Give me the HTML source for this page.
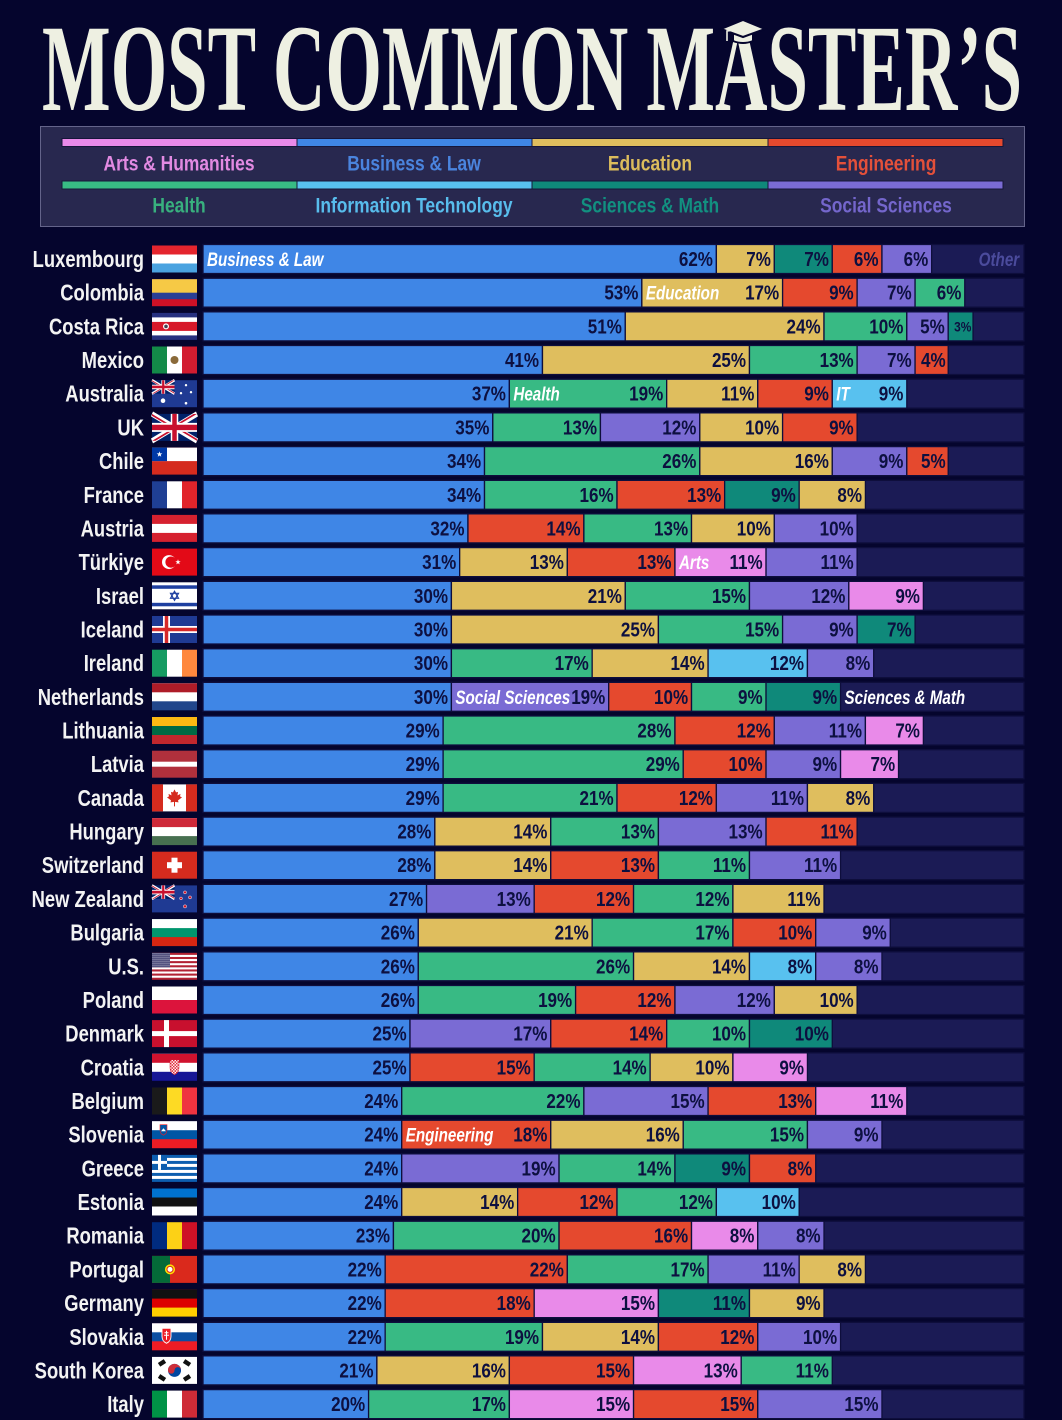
<!DOCTYPE html>
<html><head><meta charset="utf-8">
<style>
html,body{margin:0;padding:0;background:#05052d;width:1062px;height:1420px;overflow:hidden}
svg{display:block}
.B{fill:#3f86e6}.E{fill:#dfbe5e}.S{fill:#0f897a}.G{fill:#e5492e}.O{fill:#7a6bd4}.H{fill:#38ba84}.I{fill:#58c1ef}.A{fill:#e98ae9}.T{fill:#1b1b55}
.bar rect{stroke:#0e0e3c;stroke-width:1.3px;vector-effect:non-scaling-stroke}
.p{font:bold 20px "Liberation Sans",sans-serif;fill:#0d1040;text-anchor:end}
.l{font:italic bold 19px "Liberation Sans",sans-serif;fill:#fff;text-anchor:start}
.c{font:bold 23px "Liberation Sans",sans-serif;fill:#f3f3f3;text-anchor:end}
.lg{font:bold 21px "Liberation Sans",sans-serif;text-anchor:middle}
</style></head><body>
<svg width="1062" height="1420" viewBox="0 0 1062 1420">
<defs>
<clipPath id="ujc"><path d="M30,15h30v15zv15h-30zh-30v-15zv-15h30z"/></clipPath>
<g id="uj">
<rect width="60" height="30" fill="#012169"/>
<path d="M0,0L60,30M60,0L0,30" stroke="#fff" stroke-width="6"/>
<path d="M0,0L60,30M60,0L0,30" clip-path="url(#ujc)" stroke="#c8102e" stroke-width="4"/>
<path d="M30,0v30M0,15h60" stroke="#fff" stroke-width="10"/>
<path d="M30,0v30M0,15h60" stroke="#c8102e" stroke-width="6"/>
</g>
<pattern id="st" width="2" height="2" patternUnits="userSpaceOnUse"><rect width="2" height="2" fill="#3c3b6e"/><circle cx="1" cy="1" r=".55" fill="#fff"/></pattern>
<pattern id="ck" width="3" height="3" patternUnits="userSpaceOnUse"><rect width="3" height="3" fill="#fff"/><rect width="1.5" height="1.5" fill="#e0202e"/><rect x="1.5" y="1.5" width="1.5" height="1.5" fill="#e0202e"/></pattern>
</defs>
<rect width="1062" height="1420" fill="#05052d"/>

<!-- Title -->
<text x="42" y="110" textLength="980" lengthAdjust="spacingAndGlyphs" style="font:bold 124px 'Liberation Serif',serif;fill:#eef0e2">MOST COMMON MASTER’S</text>
<g fill="#eef0e2" stroke="#05052d" stroke-width="2">
<path d="M733,31 L753,31 L753,41 Q743,45 733,41 Z"/>
<polygon points="721,29 743,20 765,29 743,37"/>
</g>
<path d="M743,29 L727,31 L727,41" stroke="#eef0e2" stroke-width="1.6" fill="none"/>

<!-- Legend -->
<rect x="40.5" y="126.5" width="984" height="100" fill="#28284f" stroke="#64648a"/>
<g stroke="#16163a" stroke-width="1">
<rect x="62" y="138.5" width="235" height="8" fill="#e98ae9"/>
<rect x="297" y="138.5" width="235" height="8" fill="#3f86e6"/>
<rect x="532" y="138.5" width="236" height="8" fill="#dfbe5e"/>
<rect x="768" y="138.5" width="235" height="8" fill="#e5492e"/>
<rect x="62" y="181" width="235" height="8" fill="#38ba84"/>
<rect x="297" y="181" width="235" height="8" fill="#58c1ef"/>
<rect x="532" y="181" width="236" height="8" fill="#0f897a"/>
<rect x="768" y="181" width="235" height="8" fill="#7a6bd4"/>
</g>
<g class="lg" transform="scale(.83 1)">
<text x="215.7" y="170.5" fill="#e28ae2">Arts &amp; Humanities</text>
<text x="498.8" y="170.5" fill="#4a84de">Business &amp; Law</text>
<text x="783.1" y="170.5" fill="#dcbc5c">Education</text>
<text x="1067.5" y="170.5" fill="#e4503a">Engineering</text>
<text x="215.7" y="212.5" fill="#38b07e">Health</text>
<text x="498.8" y="212.5" fill="#58bdec">Information Technology</text>
<text x="783.1" y="212.5" fill="#129080">Sciences &amp; Math</text>
<text x="1067.5" y="212.5" fill="#7466cc">Social Sciences</text>
</g>

<!-- Row 0 Luxembourg -->
<g transform="translate(0 244.5)"><text class="c" transform="scale(.8 1)" x="180" y="22.5">Luxembourg</text>
<g transform="translate(152 1)"><rect width="45" height="27" fill="#4aa3e0"/><rect width="45" height="18" fill="#fff"/><rect width="45" height="9" fill="#e4252e"/></g>
<g class="bar p" transform="translate(203 0)scale(8.28 1)"><rect class="T" width="99.15" height="29"/>
<rect class="B" width="62" height="29"/><rect class="E" x="62" width="7" height="29"/><rect class="S" x="69" width="7" height="29"/><rect class="G" x="76" width="6" height="29"/><rect class="O" x="82" width="6" height="29"/>
<text transform="translate(62 21.5)scale(.103 1)" x="-4">62%</text><text transform="translate(69 21.5)scale(.103 1)" x="-4">7%</text><text transform="translate(76 21.5)scale(.103 1)" x="-4">7%</text><text transform="translate(82 21.5)scale(.103 1)" x="-4">6%</text><text transform="translate(88 21.5)scale(.103 1)" x="-4">6%</text>
<text class="l" transform="translate(0 21.5)scale(.0966 1)" x="5">Business &amp; Law</text>
<text class="l" style="fill:#4b4b9c;text-anchor:end" transform="translate(99.15 21.5)scale(.0966 1)" x="-6">Other</text>
</g></g>

<!-- Row 1 Colombia -->
<g transform="translate(0 278.2)"><text class="c" transform="scale(.8 1)" x="180" y="22.5">Colombia</text>
<g transform="translate(152 1)"><rect width="45" height="27" fill="#ce1126"/><rect width="45" height="20" fill="#2a3f95"/><rect width="45" height="13.5" fill="#f6c945"/></g>
<g class="bar p" transform="translate(203 0)scale(8.28 1)"><rect class="T" width="99.15" height="29"/>
<rect class="B" width="53" height="29"/><rect class="E" x="53" width="17" height="29"/><rect class="G" x="70" width="9" height="29"/><rect class="O" x="79" width="7" height="29"/><rect class="H" x="86" width="6" height="29"/>
<text transform="translate(53 21.5)scale(.103 1)" x="-4">53%</text><text transform="translate(70 21.5)scale(.103 1)" x="-4">17%</text><text transform="translate(79 21.5)scale(.103 1)" x="-4">9%</text><text transform="translate(86 21.5)scale(.103 1)" x="-4">7%</text><text transform="translate(92 21.5)scale(.103 1)" x="-4">6%</text>
<text class="l" transform="translate(53 21.5)scale(.0966 1)" x="5">Education</text>
</g></g>

<!-- Row 2 Costa Rica -->
<g transform="translate(0 311.9)"><text class="c" transform="scale(.8 1)" x="180" y="22.5">Costa Rica</text>
<g transform="translate(152 1)"><rect width="45" height="27" fill="#26307f"/><rect y="4.5" width="45" height="18" fill="#fff"/><rect y="9" width="45" height="9" fill="#d7182a"/><circle cx="14" cy="13.5" r="3" fill="#fff"/><circle cx="14" cy="13.5" r="1.8" fill="#445"/></g>
<g class="bar p" transform="translate(203 0)scale(8.28 1)"><rect class="T" width="99.15" height="29"/>
<rect class="B" width="51" height="29"/><rect class="E" x="51" width="24" height="29"/><rect class="H" x="75" width="10" height="29"/><rect class="O" x="85" width="5" height="29"/><rect class="S" x="90" width="3" height="29"/>
<text transform="translate(51 21.5)scale(.103 1)" x="-4">51%</text><text transform="translate(75 21.5)scale(.103 1)" x="-4">24%</text><text transform="translate(85 21.5)scale(.103 1)" x="-4">10%</text><text transform="translate(90 21.5)scale(.103 1)" x="-4">5%</text><text style="font-size:14px" transform="translate(93 19.5)scale(.103 1)" x="-2">3%</text>
</g></g>

<!-- Row 3 Mexico -->
<g transform="translate(0 345.5)"><text class="c" transform="scale(.8 1)" x="180" y="22.5">Mexico</text>
<g transform="translate(152 1)"><rect width="15" height="27" fill="#138a48"/><rect x="15" width="15" height="27" fill="#fff"/><rect x="30" width="15" height="27" fill="#d21c30"/><circle cx="22.5" cy="13.5" r="4" fill="#8a6a3a"/></g>
<g class="bar p" transform="translate(203 0)scale(8.28 1)"><rect class="T" width="99.15" height="29"/>
<rect class="B" width="41" height="29"/><rect class="E" x="41" width="25" height="29"/><rect class="H" x="66" width="13" height="29"/><rect class="O" x="79" width="7" height="29"/><rect class="G" x="86" width="4" height="29"/>
<text transform="translate(41 21.5)scale(.103 1)" x="-4">41%</text><text transform="translate(66 21.5)scale(.103 1)" x="-4">25%</text><text transform="translate(79 21.5)scale(.103 1)" x="-4">13%</text><text transform="translate(86 21.5)scale(.103 1)" x="-4">7%</text><text transform="translate(90 21.5)scale(.103 1)" x="-3">4%</text>
</g></g>

<!-- Row 4 Australia -->
<g transform="translate(0 379.2)"><text class="c" transform="scale(.8 1)" x="180" y="22.5">Australia</text>
<g transform="translate(152 1)"><rect width="45" height="27" fill="#1f3a93"/><use href="#uj" transform="scale(.375 .45)"/><circle cx="11" cy="20.5" r="2.3" fill="#fff"/><circle cx="34" cy="5" r="1.2" fill="#fff"/><circle cx="39" cy="12" r="1.2" fill="#fff"/><circle cx="34" cy="23" r="1.3" fill="#fff"/><circle cx="29" cy="13" r="1.2" fill="#fff"/></g>
<g class="bar p" transform="translate(203 0)scale(8.28 1)"><rect class="T" width="99.15" height="29"/>
<rect class="B" width="37" height="29"/><rect class="H" x="37" width="19" height="29"/><rect class="E" x="56" width="11" height="29"/><rect class="G" x="67" width="9" height="29"/><rect class="I" x="76" width="9" height="29"/>
<text transform="translate(37 21.5)scale(.103 1)" x="-4">37%</text><text transform="translate(56 21.5)scale(.103 1)" x="-4">19%</text><text transform="translate(67 21.5)scale(.103 1)" x="-4">11%</text><text transform="translate(76 21.5)scale(.103 1)" x="-4">9%</text><text transform="translate(85 21.5)scale(.103 1)" x="-4">9%</text>
<text class="l" transform="translate(37 21.5)scale(.0966 1)" x="5">Health</text>
<text class="l" transform="translate(76 21.5)scale(.0966 1)" x="5">IT</text>
</g></g>

<!-- Row 5 UK -->
<g transform="translate(0 412.9)"><text class="c" transform="scale(.8 1)" x="180" y="22.5">UK</text>
<g transform="translate(152 1)"><use href="#uj" transform="scale(.75 .9)"/></g>
<g class="bar p" transform="translate(203 0)scale(8.28 1)"><rect class="T" width="99.15" height="29"/>
<rect class="B" width="35" height="29"/><rect class="H" x="35" width="13" height="29"/><rect class="O" x="48" width="12" height="29"/><rect class="E" x="60" width="10" height="29"/><rect class="G" x="70" width="9" height="29"/>
<text transform="translate(35 21.5)scale(.103 1)" x="-4">35%</text><text transform="translate(48 21.5)scale(.103 1)" x="-4">13%</text><text transform="translate(60 21.5)scale(.103 1)" x="-4">12%</text><text transform="translate(70 21.5)scale(.103 1)" x="-4">10%</text><text transform="translate(79 21.5)scale(.103 1)" x="-4">9%</text>
</g></g>

<!-- Row 6 Chile -->
<g transform="translate(0 446.6)"><text class="c" transform="scale(.8 1)" x="180" y="22.5">Chile</text>
<g transform="translate(152 1)"><rect width="45" height="27" fill="#d52b1e"/><rect width="45" height="13.5" fill="#fff"/><rect width="15" height="13.5" fill="#0039a6"/><polygon points="7.5,3.75 8.2,5.78 10.35,5.82 8.64,7.12 9.26,9.18 7.5,7.95 5.74,9.18 6.36,7.12 4.65,5.82 6.8,5.78" fill="#fff"/></g>
<g class="bar p" transform="translate(203 0)scale(8.28 1)"><rect class="T" width="99.15" height="29"/>
<rect class="B" width="34" height="29"/><rect class="H" x="34" width="26" height="29"/><rect class="E" x="60" width="16" height="29"/><rect class="O" x="76" width="9" height="29"/><rect class="G" x="85" width="5" height="29"/>
<text transform="translate(34 21.5)scale(.103 1)" x="-4">34%</text><text transform="translate(60 21.5)scale(.103 1)" x="-4">26%</text><text transform="translate(76 21.5)scale(.103 1)" x="-4">16%</text><text transform="translate(85 21.5)scale(.103 1)" x="-4">9%</text><text transform="translate(90 21.5)scale(.103 1)" x="-3">5%</text>
</g></g>

<!-- Row 7 France -->
<g transform="translate(0 480.3)"><text class="c" transform="scale(.8 1)" x="180" y="22.5">France</text>
<g transform="translate(152 1)"><rect width="15" height="27" fill="#1f3f94"/><rect x="15" width="15" height="27" fill="#fff"/><rect x="30" width="15" height="27" fill="#e1242b"/></g>
<g class="bar p" transform="translate(203 0)scale(8.28 1)"><rect class="T" width="99.15" height="29"/>
<rect class="B" width="34" height="29"/><rect class="H" x="34" width="16" height="29"/><rect class="G" x="50" width="13" height="29"/><rect class="S" x="63" width="9" height="29"/><rect class="E" x="72" width="8" height="29"/>
<text transform="translate(34 21.5)scale(.103 1)" x="-4">34%</text><text transform="translate(50 21.5)scale(.103 1)" x="-4">16%</text><text transform="translate(63 21.5)scale(.103 1)" x="-4">13%</text><text transform="translate(72 21.5)scale(.103 1)" x="-4">9%</text><text transform="translate(80 21.5)scale(.103 1)" x="-4">8%</text>
</g></g>

<!-- Row 8 Austria -->
<g transform="translate(0 513.9)"><text class="c" transform="scale(.8 1)" x="180" y="22.5">Austria</text>
<g transform="translate(152 1)"><rect width="45" height="27" fill="#d6212f"/><rect y="9" width="45" height="9" fill="#fff"/></g>
<g class="bar p" transform="translate(203 0)scale(8.28 1)"><rect class="T" width="99.15" height="29"/>
<rect class="B" width="32" height="29"/><rect class="G" x="32" width="14" height="29"/><rect class="H" x="46" width="13" height="29"/><rect class="E" x="59" width="10" height="29"/><rect class="O" x="69" width="10" height="29"/>
<text transform="translate(32 21.5)scale(.103 1)" x="-4">32%</text><text transform="translate(46 21.5)scale(.103 1)" x="-4">14%</text><text transform="translate(59 21.5)scale(.103 1)" x="-4">13%</text><text transform="translate(69 21.5)scale(.103 1)" x="-4">10%</text><text transform="translate(79 21.5)scale(.103 1)" x="-4">10%</text>
</g></g>

<!-- Row 9 Türkiye -->
<g transform="translate(0 547.6)"><text class="c" transform="scale(.8 1)" x="180" y="22.5">Türkiye</text>
<g transform="translate(152 1)"><rect width="45" height="27" fill="#e30a17"/><circle cx="17" cy="13.5" r="7" fill="#fff"/><circle cx="19" cy="13.5" r="5.6" fill="#e30a17"/><polygon points="26,10.7 26.7,12.6 28.7,12.6 27.1,13.8 27.7,15.8 26,14.6 24.3,15.8 24.9,13.8 23.3,12.6 25.3,12.6" fill="#fff"/></g>
<g class="bar p" transform="translate(203 0)scale(8.28 1)"><rect class="T" width="99.15" height="29"/>
<rect class="B" width="31" height="29"/><rect class="E" x="31" width="13" height="29"/><rect class="G" x="44" width="13" height="29"/><rect class="A" x="57" width="11" height="29"/><rect class="O" x="68" width="11" height="29"/>
<text transform="translate(31 21.5)scale(.103 1)" x="-4">31%</text><text transform="translate(44 21.5)scale(.103 1)" x="-4">13%</text><text transform="translate(57 21.5)scale(.103 1)" x="-4">13%</text><text transform="translate(68 21.5)scale(.103 1)" x="-4">11%</text><text transform="translate(79 21.5)scale(.103 1)" x="-4">11%</text>
<text class="l" transform="translate(57 21.5)scale(.0966 1)" x="5">Arts</text>
</g></g>

<!-- Row 10 Israel -->
<g transform="translate(0 581.3)"><text class="c" transform="scale(.8 1)" x="180" y="22.5">Israel</text>
<g transform="translate(152 1)"><rect width="45" height="27" fill="#fff"/><rect y="3" width="45" height="3.5" fill="#1e3fa0"/><rect y="20.5" width="45" height="3.5" fill="#1e3fa0"/><path d="M22.5,9 L26.5,16 L18.5,16 Z M22.5,18 L26.5,11 L18.5,11 Z" fill="none" stroke="#1e3fa0" stroke-width="1.2"/></g>
<g class="bar p" transform="translate(203 0)scale(8.28 1)"><rect class="T" width="99.15" height="29"/>
<rect class="B" width="30" height="29"/><rect class="E" x="30" width="21" height="29"/><rect class="H" x="51" width="15" height="29"/><rect class="O" x="66" width="12" height="29"/><rect class="A" x="78" width="9" height="29"/>
<text transform="translate(30 21.5)scale(.103 1)" x="-4">30%</text><text transform="translate(51 21.5)scale(.103 1)" x="-4">21%</text><text transform="translate(66 21.5)scale(.103 1)" x="-4">15%</text><text transform="translate(78 21.5)scale(.103 1)" x="-4">12%</text><text transform="translate(87 21.5)scale(.103 1)" x="-4">9%</text>
</g></g>

<!-- Row 11 Iceland -->
<g transform="translate(0 615.0)"><text class="c" transform="scale(.8 1)" x="180" y="22.5">Iceland</text>
<g transform="translate(152 1)"><rect width="45" height="27" fill="#1f3a93"/><rect x="11" width="7" height="27" fill="#fff"/><rect y="10" width="45" height="7" fill="#fff"/><rect x="12.75" width="3.5" height="27" fill="#d72828"/><rect y="11.75" width="45" height="3.5" fill="#d72828"/></g>
<g class="bar p" transform="translate(203 0)scale(8.28 1)"><rect class="T" width="99.15" height="29"/>
<rect class="B" width="30" height="29"/><rect class="E" x="30" width="25" height="29"/><rect class="H" x="55" width="15" height="29"/><rect class="O" x="70" width="9" height="29"/><rect class="S" x="79" width="7" height="29"/>
<text transform="translate(30 21.5)scale(.103 1)" x="-4">30%</text><text transform="translate(55 21.5)scale(.103 1)" x="-4">25%</text><text transform="translate(70 21.5)scale(.103 1)" x="-4">15%</text><text transform="translate(79 21.5)scale(.103 1)" x="-4">9%</text><text transform="translate(86 21.5)scale(.103 1)" x="-4">7%</text>
</g></g>

<!-- Row 12 Ireland -->
<g transform="translate(0 648.7)"><text class="c" transform="scale(.8 1)" x="180" y="22.5">Ireland</text>
<g transform="translate(152 1)"><rect width="15" height="27" fill="#169b62"/><rect x="15" width="15" height="27" fill="#fff"/><rect x="30" width="15" height="27" fill="#ff883e"/></g>
<g class="bar p" transform="translate(203 0)scale(8.28 1)"><rect class="T" width="99.15" height="29"/>
<rect class="B" width="30" height="29"/><rect class="H" x="30" width="17" height="29"/><rect class="E" x="47" width="14" height="29"/><rect class="I" x="61" width="12" height="29"/><rect class="O" x="73" width="8" height="29"/>
<text transform="translate(30 21.5)scale(.103 1)" x="-4">30%</text><text transform="translate(47 21.5)scale(.103 1)" x="-4">17%</text><text transform="translate(61 21.5)scale(.103 1)" x="-4">14%</text><text transform="translate(73 21.5)scale(.103 1)" x="-4">12%</text><text transform="translate(81 21.5)scale(.103 1)" x="-4">8%</text>
</g></g>

<!-- Row 13 Netherlands -->
<g transform="translate(0 682.3)"><text class="c" transform="scale(.8 1)" x="180" y="22.5">Netherlands</text>
<g transform="translate(152 1)"><rect width="45" height="27" fill="#21468b"/><rect width="45" height="18" fill="#fff"/><rect width="45" height="9" fill="#ae1c28"/></g>
<g class="bar p" transform="translate(203 0)scale(8.28 1)"><rect class="T" width="99.15" height="29"/>
<rect class="B" width="30" height="29"/><rect class="O" x="30" width="19" height="29"/><rect class="G" x="49" width="10" height="29"/><rect class="H" x="59" width="9" height="29"/><rect class="S" x="68" width="9" height="29"/>
<text transform="translate(30 21.5)scale(.103 1)" x="-4">30%</text><text transform="translate(49 21.5)scale(.103 1)" x="-4">19%</text><text transform="translate(59 21.5)scale(.103 1)" x="-4">10%</text><text transform="translate(68 21.5)scale(.103 1)" x="-4">9%</text><text transform="translate(77 21.5)scale(.103 1)" x="-4">9%</text>
<text class="l" transform="translate(30 21.5)scale(.0966 1)" x="5">Social Sciences</text>
<text class="l" transform="translate(77 21.5)scale(.0966 1)" x="5">Sciences &amp; Math</text>
</g></g>

<!-- Row 14 Lithuania -->
<g transform="translate(0 716.0)"><text class="c" transform="scale(.8 1)" x="180" y="22.5">Lithuania</text>
<g transform="translate(152 1)"><rect width="45" height="27" fill="#c1272d"/><rect width="45" height="18" fill="#006a44"/><rect width="45" height="9" fill="#fdb913"/></g>
<g class="bar p" transform="translate(203 0)scale(8.28 1)"><rect class="T" width="99.15" height="29"/>
<rect class="B" width="29" height="29"/><rect class="H" x="29" width="28" height="29"/><rect class="G" x="57" width="12" height="29"/><rect class="O" x="69" width="11" height="29"/><rect class="A" x="80" width="7" height="29"/>
<text transform="translate(29 21.5)scale(.103 1)" x="-4">29%</text><text transform="translate(57 21.5)scale(.103 1)" x="-4">28%</text><text transform="translate(69 21.5)scale(.103 1)" x="-4">12%</text><text transform="translate(80 21.5)scale(.103 1)" x="-4">11%</text><text transform="translate(87 21.5)scale(.103 1)" x="-4">7%</text>
</g></g>

<!-- Row 15 Latvia -->
<g transform="translate(0 749.7)"><text class="c" transform="scale(.8 1)" x="180" y="22.5">Latvia</text>
<g transform="translate(152 1)"><rect width="45" height="27" fill="#b0303c"/><rect y="11" width="45" height="5" fill="#fff"/></g>
<g class="bar p" transform="translate(203 0)scale(8.28 1)"><rect class="T" width="99.15" height="29"/>
<rect class="B" width="29" height="29"/><rect class="H" x="29" width="29" height="29"/><rect class="G" x="58" width="10" height="29"/><rect class="O" x="68" width="9" height="29"/><rect class="A" x="77" width="7" height="29"/>
<text transform="translate(29 21.5)scale(.103 1)" x="-4">29%</text><text transform="translate(58 21.5)scale(.103 1)" x="-4">29%</text><text transform="translate(68 21.5)scale(.103 1)" x="-4">10%</text><text transform="translate(77 21.5)scale(.103 1)" x="-4">9%</text><text transform="translate(84 21.5)scale(.103 1)" x="-4">7%</text>
</g></g>

<!-- Row 16 Canada -->
<g transform="translate(0 783.4)"><text class="c" transform="scale(.8 1)" x="180" y="22.5">Canada</text>
<g transform="translate(152 1)"><rect width="45" height="27" fill="#fff"/><rect width="11" height="27" fill="#d52b1e"/><rect x="34" width="11" height="27" fill="#d52b1e"/><polygon points="22.5,5 24,8 26,7.5 25.5,11 28.5,9.5 28,12 30,13 26,16 26.5,18 23,17.5 23,22 22,22 22,17.5 18.5,18 19,16 15,13 17,12 16.5,9.5 19.5,11 19,7.5 21,8" fill="#d52b1e"/></g>
<g class="bar p" transform="translate(203 0)scale(8.28 1)"><rect class="T" width="99.15" height="29"/>
<rect class="B" width="29" height="29"/><rect class="H" x="29" width="21" height="29"/><rect class="G" x="50" width="12" height="29"/><rect class="O" x="62" width="11" height="29"/><rect class="E" x="73" width="8" height="29"/>
<text transform="translate(29 21.5)scale(.103 1)" x="-4">29%</text><text transform="translate(50 21.5)scale(.103 1)" x="-4">21%</text><text transform="translate(62 21.5)scale(.103 1)" x="-4">12%</text><text transform="translate(73 21.5)scale(.103 1)" x="-4">11%</text><text transform="translate(81 21.5)scale(.103 1)" x="-4">8%</text>
</g></g>

<!-- Row 17 Hungary -->
<g transform="translate(0 817.1)"><text class="c" transform="scale(.8 1)" x="180" y="22.5">Hungary</text>
<g transform="translate(152 1)"><rect width="45" height="27" fill="#477050"/><rect width="45" height="18" fill="#fff"/><rect width="45" height="9" fill="#ce2939"/></g>
<g class="bar p" transform="translate(203 0)scale(8.28 1)"><rect class="T" width="99.15" height="29"/>
<rect class="B" width="28" height="29"/><rect class="E" x="28" width="14" height="29"/><rect class="H" x="42" width="13" height="29"/><rect class="O" x="55" width="13" height="29"/><rect class="G" x="68" width="11" height="29"/>
<text transform="translate(28 21.5)scale(.103 1)" x="-4">28%</text><text transform="translate(42 21.5)scale(.103 1)" x="-4">14%</text><text transform="translate(55 21.5)scale(.103 1)" x="-4">13%</text><text transform="translate(68 21.5)scale(.103 1)" x="-4">13%</text><text transform="translate(79 21.5)scale(.103 1)" x="-4">11%</text>
</g></g>

<!-- Row 18 Switzerland -->
<g transform="translate(0 850.7)"><text class="c" transform="scale(.8 1)" x="180" y="22.5">Switzerland</text>
<g transform="translate(152 1)"><rect width="45" height="27" fill="#d52b1e"/><rect x="19.5" y="6" width="6" height="15" fill="#fff"/><rect x="15" y="10.5" width="15" height="6" fill="#fff"/></g>
<g class="bar p" transform="translate(203 0)scale(8.28 1)"><rect class="T" width="99.15" height="29"/>
<rect class="B" width="28" height="29"/><rect class="E" x="28" width="14" height="29"/><rect class="G" x="42" width="13" height="29"/><rect class="H" x="55" width="11" height="29"/><rect class="O" x="66" width="11" height="29"/>
<text transform="translate(28 21.5)scale(.103 1)" x="-4">28%</text><text transform="translate(42 21.5)scale(.103 1)" x="-4">14%</text><text transform="translate(55 21.5)scale(.103 1)" x="-4">13%</text><text transform="translate(66 21.5)scale(.103 1)" x="-4">11%</text><text transform="translate(77 21.5)scale(.103 1)" x="-4">11%</text>
</g></g>

<!-- Row 19 New Zealand -->
<g transform="translate(0 884.4)"><text class="c" transform="scale(.8 1)" x="180" y="22.5">New Zealand</text>
<g transform="translate(152 1)"><rect width="45" height="27" fill="#1f3a93"/><use href="#uj" transform="scale(.375 .45)"/><g fill="#cc142b" stroke="#fff" stroke-width=".5"><circle cx="33" cy="7" r="1.5"/><circle cx="38" cy="12" r="1.5"/><circle cx="29" cy="13" r="1.4"/><circle cx="33" cy="21" r="1.6"/></g></g>
<g class="bar p" transform="translate(203 0)scale(8.28 1)"><rect class="T" width="99.15" height="29"/>
<rect class="B" width="27" height="29"/><rect class="O" x="27" width="13" height="29"/><rect class="G" x="40" width="12" height="29"/><rect class="H" x="52" width="12" height="29"/><rect class="E" x="64" width="11" height="29"/>
<text transform="translate(27 21.5)scale(.103 1)" x="-4">27%</text><text transform="translate(40 21.5)scale(.103 1)" x="-4">13%</text><text transform="translate(52 21.5)scale(.103 1)" x="-4">12%</text><text transform="translate(64 21.5)scale(.103 1)" x="-4">12%</text><text transform="translate(75 21.5)scale(.103 1)" x="-4">11%</text>
</g></g>

<!-- Row 20 Bulgaria -->
<g transform="translate(0 918.1)"><text class="c" transform="scale(.8 1)" x="180" y="22.5">Bulgaria</text>
<g transform="translate(152 1)"><rect width="45" height="27" fill="#d62612"/><rect width="45" height="18" fill="#00966e"/><rect width="45" height="9" fill="#fff"/></g>
<g class="bar p" transform="translate(203 0)scale(8.28 1)"><rect class="T" width="99.15" height="29"/>
<rect class="B" width="26" height="29"/><rect class="E" x="26" width="21" height="29"/><rect class="H" x="47" width="17" height="29"/><rect class="G" x="64" width="10" height="29"/><rect class="O" x="74" width="9" height="29"/>
<text transform="translate(26 21.5)scale(.103 1)" x="-4">26%</text><text transform="translate(47 21.5)scale(.103 1)" x="-4">21%</text><text transform="translate(64 21.5)scale(.103 1)" x="-4">17%</text><text transform="translate(74 21.5)scale(.103 1)" x="-4">10%</text><text transform="translate(83 21.5)scale(.103 1)" x="-4">9%</text>
</g></g>

<!-- Row 21 U.S. -->
<g transform="translate(0 951.8)"><text class="c" transform="scale(.8 1)" x="180" y="22.5">U.S.</text>
<g transform="translate(152 1)"><rect width="45" height="27" fill="#b22234"/><g fill="#fff"><rect y="2.08" width="45" height="2.08"/><rect y="6.23" width="45" height="2.08"/><rect y="10.38" width="45" height="2.08"/><rect y="14.54" width="45" height="2.08"/><rect y="18.69" width="45" height="2.08"/><rect y="22.85" width="45" height="2.08"/></g><rect width="18" height="14.54" fill="url(#st)"/></g>
<g class="bar p" transform="translate(203 0)scale(8.28 1)"><rect class="T" width="99.15" height="29"/>
<rect class="B" width="26" height="29"/><rect class="H" x="26" width="26" height="29"/><rect class="E" x="52" width="14" height="29"/><rect class="I" x="66" width="8" height="29"/><rect class="O" x="74" width="8" height="29"/>
<text transform="translate(26 21.5)scale(.103 1)" x="-4">26%</text><text transform="translate(52 21.5)scale(.103 1)" x="-4">26%</text><text transform="translate(66 21.5)scale(.103 1)" x="-4">14%</text><text transform="translate(74 21.5)scale(.103 1)" x="-4">8%</text><text transform="translate(82 21.5)scale(.103 1)" x="-4">8%</text>
</g></g>

<!-- Row 22 Poland -->
<g transform="translate(0 985.5)"><text class="c" transform="scale(.8 1)" x="180" y="22.5">Poland</text>
<g transform="translate(152 1)"><rect width="45" height="27" fill="#dc143c"/><rect width="45" height="13.5" fill="#fff"/></g>
<g class="bar p" transform="translate(203 0)scale(8.28 1)"><rect class="T" width="99.15" height="29"/>
<rect class="B" width="26" height="29"/><rect class="H" x="26" width="19" height="29"/><rect class="G" x="45" width="12" height="29"/><rect class="O" x="57" width="12" height="29"/><rect class="E" x="69" width="10" height="29"/>
<text transform="translate(26 21.5)scale(.103 1)" x="-4">26%</text><text transform="translate(45 21.5)scale(.103 1)" x="-4">19%</text><text transform="translate(57 21.5)scale(.103 1)" x="-4">12%</text><text transform="translate(69 21.5)scale(.103 1)" x="-4">12%</text><text transform="translate(79 21.5)scale(.103 1)" x="-4">10%</text>
</g></g>

<!-- Row 23 Denmark -->
<g transform="translate(0 1019.1)"><text class="c" transform="scale(.8 1)" x="180" y="22.5">Denmark</text>
<g transform="translate(152 1)"><rect width="45" height="27" fill="#c8102e"/><rect x="12" width="5" height="27" fill="#fff"/><rect y="11" width="45" height="5" fill="#fff"/></g>
<g class="bar p" transform="translate(203 0)scale(8.28 1)"><rect class="T" width="99.15" height="29"/>
<rect class="B" width="25" height="29"/><rect class="O" x="25" width="17" height="29"/><rect class="G" x="42" width="14" height="29"/><rect class="H" x="56" width="10" height="29"/><rect class="S" x="66" width="10" height="29"/>
<text transform="translate(25 21.5)scale(.103 1)" x="-4">25%</text><text transform="translate(42 21.5)scale(.103 1)" x="-4">17%</text><text transform="translate(56 21.5)scale(.103 1)" x="-4">14%</text><text transform="translate(66 21.5)scale(.103 1)" x="-4">10%</text><text transform="translate(76 21.5)scale(.103 1)" x="-4">10%</text>
</g></g>

<!-- Row 24 Croatia -->
<g transform="translate(0 1052.8)"><text class="c" transform="scale(.8 1)" x="180" y="22.5">Croatia</text>
<g transform="translate(152 1)"><rect width="45" height="27" fill="#171796"/><rect width="45" height="18" fill="#fff"/><rect width="45" height="9" fill="#d0122e"/><path d="M18,6 h9 v8 q0,5 -4.5,7 q-4.5,-2 -4.5,-7z" fill="url(#ck)" stroke="#d0122e" stroke-width=".5"/></g>
<g class="bar p" transform="translate(203 0)scale(8.28 1)"><rect class="T" width="99.15" height="29"/>
<rect class="B" width="25" height="29"/><rect class="G" x="25" width="15" height="29"/><rect class="H" x="40" width="14" height="29"/><rect class="E" x="54" width="10" height="29"/><rect class="A" x="64" width="9" height="29"/>
<text transform="translate(25 21.5)scale(.103 1)" x="-4">25%</text><text transform="translate(40 21.5)scale(.103 1)" x="-4">15%</text><text transform="translate(54 21.5)scale(.103 1)" x="-4">14%</text><text transform="translate(64 21.5)scale(.103 1)" x="-4">10%</text><text transform="translate(73 21.5)scale(.103 1)" x="-4">9%</text>
</g></g>

<!-- Row 25 Belgium -->
<g transform="translate(0 1086.5)"><text class="c" transform="scale(.8 1)" x="180" y="22.5">Belgium</text>
<g transform="translate(152 1)"><rect width="15" height="27" fill="#1a1a1a"/><rect x="15" width="15" height="27" fill="#fdda24"/><rect x="30" width="15" height="27" fill="#ef3340"/></g>
<g class="bar p" transform="translate(203 0)scale(8.28 1)"><rect class="T" width="99.15" height="29"/>
<rect class="B" width="24" height="29"/><rect class="H" x="24" width="22" height="29"/><rect class="O" x="46" width="15" height="29"/><rect class="G" x="61" width="13" height="29"/><rect class="A" x="74" width="11" height="29"/>
<text transform="translate(24 21.5)scale(.103 1)" x="-4">24%</text><text transform="translate(46 21.5)scale(.103 1)" x="-4">22%</text><text transform="translate(61 21.5)scale(.103 1)" x="-4">15%</text><text transform="translate(74 21.5)scale(.103 1)" x="-4">13%</text><text transform="translate(85 21.5)scale(.103 1)" x="-4">11%</text>
</g></g>

<!-- Row 26 Slovenia -->
<g transform="translate(0 1120.2)"><text class="c" transform="scale(.8 1)" x="180" y="22.5">Slovenia</text>
<g transform="translate(152 1)"><rect width="45" height="27" fill="#ed1c24"/><rect width="45" height="18" fill="#0056a5"/><rect width="45" height="9" fill="#fff"/><path d="M8,3.5 h7 v5 q0,4 -3.5,5.5 q-3.5,-1.5 -3.5,-5.5z" fill="#0056a5" stroke="#ed1c24" stroke-width=".6"/><path d="M9,10 l2.5,-3 l2.5,3z" fill="#fff"/></g>
<g class="bar p" transform="translate(203 0)scale(8.28 1)"><rect class="T" width="99.15" height="29"/>
<rect class="B" width="24" height="29"/><rect class="G" x="24" width="18" height="29"/><rect class="E" x="42" width="16" height="29"/><rect class="H" x="58" width="15" height="29"/><rect class="O" x="73" width="9" height="29"/>
<text transform="translate(24 21.5)scale(.103 1)" x="-4">24%</text><text transform="translate(42 21.5)scale(.103 1)" x="-4">18%</text><text transform="translate(58 21.5)scale(.103 1)" x="-4">16%</text><text transform="translate(73 21.5)scale(.103 1)" x="-4">15%</text><text transform="translate(82 21.5)scale(.103 1)" x="-4">9%</text>
<text class="l" transform="translate(24 21.5)scale(.0966 1)" x="5">Engineering</text>
</g></g>

<!-- Row 27 Greece -->
<g transform="translate(0 1153.9)"><text class="c" transform="scale(.8 1)" x="180" y="22.5">Greece</text>
<g transform="translate(152 1)"><rect width="45" height="27" fill="#0d5eaf"/><g fill="#fff"><rect y="3" width="45" height="3"/><rect y="9" width="45" height="3"/><rect y="15" width="45" height="3"/><rect y="21" width="45" height="3"/></g><rect width="15" height="15" fill="#0d5eaf"/><rect x="6" width="3" height="15" fill="#fff"/><rect y="6" width="15" height="3" fill="#fff"/></g>
<g class="bar p" transform="translate(203 0)scale(8.28 1)"><rect class="T" width="99.15" height="29"/>
<rect class="B" width="24" height="29"/><rect class="O" x="24" width="19" height="29"/><rect class="H" x="43" width="14" height="29"/><rect class="S" x="57" width="9" height="29"/><rect class="G" x="66" width="8" height="29"/>
<text transform="translate(24 21.5)scale(.103 1)" x="-4">24%</text><text transform="translate(43 21.5)scale(.103 1)" x="-4">19%</text><text transform="translate(57 21.5)scale(.103 1)" x="-4">14%</text><text transform="translate(66 21.5)scale(.103 1)" x="-4">9%</text><text transform="translate(74 21.5)scale(.103 1)" x="-4">8%</text>
</g></g>

<!-- Row 28 Estonia -->
<g transform="translate(0 1187.5)"><text class="c" transform="scale(.8 1)" x="180" y="22.5">Estonia</text>
<g transform="translate(152 1)"><rect width="45" height="27" fill="#fff"/><rect width="45" height="18" fill="#111"/><rect width="45" height="9" fill="#0072ce"/></g>
<g class="bar p" transform="translate(203 0)scale(8.28 1)"><rect class="T" width="99.15" height="29"/>
<rect class="B" width="24" height="29"/><rect class="E" x="24" width="14" height="29"/><rect class="G" x="38" width="12" height="29"/><rect class="H" x="50" width="12" height="29"/><rect class="I" x="62" width="10" height="29"/>
<text transform="translate(24 21.5)scale(.103 1)" x="-4">24%</text><text transform="translate(38 21.5)scale(.103 1)" x="-4">14%</text><text transform="translate(50 21.5)scale(.103 1)" x="-4">12%</text><text transform="translate(62 21.5)scale(.103 1)" x="-4">12%</text><text transform="translate(72 21.5)scale(.103 1)" x="-4">10%</text>
</g></g>

<!-- Row 29 Romania -->
<g transform="translate(0 1221.2)"><text class="c" transform="scale(.8 1)" x="180" y="22.5">Romania</text>
<g transform="translate(152 1)"><rect width="15" height="27" fill="#002b7f"/><rect x="15" width="15" height="27" fill="#fcd116"/><rect x="30" width="15" height="27" fill="#ce1126"/></g>
<g class="bar p" transform="translate(203 0)scale(8.28 1)"><rect class="T" width="99.15" height="29"/>
<rect class="B" width="23" height="29"/><rect class="H" x="23" width="20" height="29"/><rect class="G" x="43" width="16" height="29"/><rect class="A" x="59" width="8" height="29"/><rect class="O" x="67" width="8" height="29"/>
<text transform="translate(23 21.5)scale(.103 1)" x="-4">23%</text><text transform="translate(43 21.5)scale(.103 1)" x="-4">20%</text><text transform="translate(59 21.5)scale(.103 1)" x="-4">16%</text><text transform="translate(67 21.5)scale(.103 1)" x="-4">8%</text><text transform="translate(75 21.5)scale(.103 1)" x="-4">8%</text>
</g></g>

<!-- Row 30 Portugal -->
<g transform="translate(0 1254.9)"><text class="c" transform="scale(.8 1)" x="180" y="22.5">Portugal</text>
<g transform="translate(152 1)"><rect width="45" height="27" fill="#da291c"/><rect width="18" height="27" fill="#046a38"/><circle cx="18" cy="13.5" r="5" fill="#ffe000"/><circle cx="18" cy="13.5" r="3" fill="#fff" stroke="#da291c" stroke-width="1"/></g>
<g class="bar p" transform="translate(203 0)scale(8.28 1)"><rect class="T" width="99.15" height="29"/>
<rect class="B" width="22" height="29"/><rect class="G" x="22" width="22" height="29"/><rect class="H" x="44" width="17" height="29"/><rect class="O" x="61" width="11" height="29"/><rect class="E" x="72" width="8" height="29"/>
<text transform="translate(22 21.5)scale(.103 1)" x="-4">22%</text><text transform="translate(44 21.5)scale(.103 1)" x="-4">22%</text><text transform="translate(61 21.5)scale(.103 1)" x="-4">17%</text><text transform="translate(72 21.5)scale(.103 1)" x="-4">11%</text><text transform="translate(80 21.5)scale(.103 1)" x="-4">8%</text>
</g></g>

<!-- Row 31 Germany -->
<g transform="translate(0 1288.6)"><text class="c" transform="scale(.8 1)" x="180" y="22.5">Germany</text>
<g transform="translate(152 1)"><rect width="45" height="27" fill="#ffce00"/><rect width="45" height="18" fill="#dd0000"/><rect width="45" height="9" fill="#111"/></g>
<g class="bar p" transform="translate(203 0)scale(8.28 1)"><rect class="T" width="99.15" height="29"/>
<rect class="B" width="22" height="29"/><rect class="G" x="22" width="18" height="29"/><rect class="A" x="40" width="15" height="29"/><rect class="S" x="55" width="11" height="29"/><rect class="E" x="66" width="9" height="29"/>
<text transform="translate(22 21.5)scale(.103 1)" x="-4">22%</text><text transform="translate(40 21.5)scale(.103 1)" x="-4">18%</text><text transform="translate(55 21.5)scale(.103 1)" x="-4">15%</text><text transform="translate(66 21.5)scale(.103 1)" x="-4">11%</text><text transform="translate(75 21.5)scale(.103 1)" x="-4">9%</text>
</g></g>

<!-- Row 32 Slovakia -->
<g transform="translate(0 1322.3)"><text class="c" transform="scale(.8 1)" x="180" y="22.5">Slovakia</text>
<g transform="translate(152 1)"><rect width="45" height="27" fill="#ee1c25"/><rect width="45" height="18" fill="#0b4ea2"/><rect width="45" height="9" fill="#fff"/><path d="M10,5 h9 v8 q0,5 -4.5,7 q-4.5,-2 -4.5,-7z" fill="#ee1c25" stroke="#fff" stroke-width=".9"/><path d="M14.5,7.5v9M12.5,9.5h4M12,12h5" stroke="#fff" stroke-width="1"/></g>
<g class="bar p" transform="translate(203 0)scale(8.28 1)"><rect class="T" width="99.15" height="29"/>
<rect class="B" width="22" height="29"/><rect class="H" x="22" width="19" height="29"/><rect class="E" x="41" width="14" height="29"/><rect class="G" x="55" width="12" height="29"/><rect class="O" x="67" width="10" height="29"/>
<text transform="translate(22 21.5)scale(.103 1)" x="-4">22%</text><text transform="translate(41 21.5)scale(.103 1)" x="-4">19%</text><text transform="translate(55 21.5)scale(.103 1)" x="-4">14%</text><text transform="translate(67 21.5)scale(.103 1)" x="-4">12%</text><text transform="translate(77 21.5)scale(.103 1)" x="-4">10%</text>
</g></g>

<!-- Row 33 South Korea -->
<g transform="translate(0 1355.9)"><text class="c" transform="scale(.8 1)" x="180" y="22.5">South Korea</text>
<g transform="translate(152 1)"><rect width="45" height="27" fill="#fff"/><circle cx="22.5" cy="13.5" r="6.5" fill="#0047a0"/><path d="M16,13.5 A6.5,6.5 0 0 1 29,13.5 Z" fill="#cd2e3a"/><circle cx="19.25" cy="13.5" r="3.25" fill="#cd2e3a"/><circle cx="25.75" cy="13.5" r="3.25" fill="#0047a0"/><g fill="#111"><rect x="-3.5" y="-2.2" width="7" height="4.4" transform="translate(10 6) rotate(-33)"/><rect x="-3.5" y="-2.2" width="7" height="4.4" transform="translate(35 6) rotate(33)"/><rect x="-3.5" y="-2.2" width="7" height="4.4" transform="translate(10 21) rotate(33)"/><rect x="-3.5" y="-2.2" width="7" height="4.4" transform="translate(35 21) rotate(-33)"/></g></g>
<g class="bar p" transform="translate(203 0)scale(8.28 1)"><rect class="T" width="99.15" height="29"/>
<rect class="B" width="21" height="29"/><rect class="E" x="21" width="16" height="29"/><rect class="G" x="37" width="15" height="29"/><rect class="A" x="52" width="13" height="29"/><rect class="H" x="65" width="11" height="29"/>
<text transform="translate(21 21.5)scale(.103 1)" x="-4">21%</text><text transform="translate(37 21.5)scale(.103 1)" x="-4">16%</text><text transform="translate(52 21.5)scale(.103 1)" x="-4">15%</text><text transform="translate(65 21.5)scale(.103 1)" x="-4">13%</text><text transform="translate(76 21.5)scale(.103 1)" x="-4">11%</text>
</g></g>

<!-- Row 34 Italy -->
<g transform="translate(0 1389.6)"><text class="c" transform="scale(.8 1)" x="180" y="22.5">Italy</text>
<g transform="translate(152 1)"><rect width="15" height="27" fill="#009246"/><rect x="15" width="15" height="27" fill="#fff"/><rect x="30" width="15" height="27" fill="#ce2b37"/></g>
<g class="bar p" transform="translate(203 0)scale(8.28 1)"><rect class="T" width="99.15" height="29"/>
<rect class="B" width="20" height="29"/><rect class="H" x="20" width="17" height="29"/><rect class="A" x="37" width="15" height="29"/><rect class="G" x="52" width="15" height="29"/><rect class="O" x="67" width="15" height="29"/>
<text transform="translate(20 21.5)scale(.103 1)" x="-4">20%</text><text transform="translate(37 21.5)scale(.103 1)" x="-4">17%</text><text transform="translate(52 21.5)scale(.103 1)" x="-4">15%</text><text transform="translate(67 21.5)scale(.103 1)" x="-4">15%</text><text transform="translate(82 21.5)scale(.103 1)" x="-4">15%</text>
</g></g>

</svg>
</body></html>
